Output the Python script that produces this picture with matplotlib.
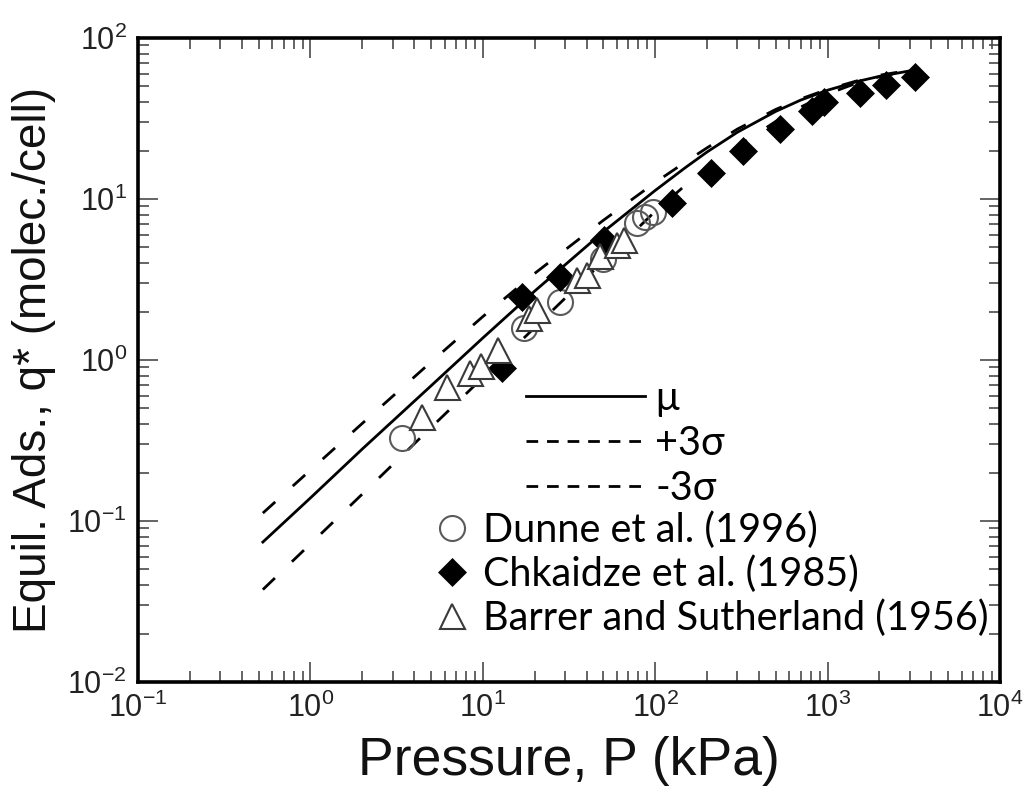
import matplotlib
matplotlib.use('Agg')
import matplotlib.pyplot as plt
from matplotlib.lines import Line2D
from matplotlib.ticker import LogLocator, NullFormatter

# ---------------- data ----------------
P_model = [0.53, 1, 2, 5, 10, 20, 50, 100, 150, 200, 300, 500, 700, 1000, 1500, 2000, 3000]
q_mu    = [0.074, 0.139, 0.28, 0.69, 1.37, 2.68, 6.25, 11.3, 15.7, 19.6, 26.0, 35.0, 41.2, 47.4, 53.8, 57.8, 62.5]
q_plus  = [0.112, 0.207, 0.404, 0.97, 1.86, 3.45, 7.37, 12.66, 17.0, 20.8, 27.2, 36.0, 41.9, 48.0, 54.4, 58.7, 63.1]
q_minus = [0.0375, 0.072, 0.147, 0.38, 0.777, 1.59, 4.1, 8.38, 12.2, 15.5, 21.2, 30.3, 37.3, 44.9, 52.8, 57.5, 62.4]

P_dunne = [3.4, 17.3, 28.0, 50.0, 78.5, 87.7, 97.0]
q_dunne = [0.33, 1.58, 2.3, 4.25, 7.06, 7.77, 8.3]

P_chk = [12.9, 16.9, 28.2, 50.3, 125, 211, 322, 532, 813, 950, 1550, 2185, 3230]
q_chk = [0.89, 2.47, 3.29, 5.56, 9.4, 14.5, 19.9, 27.1, 35.2, 40.2, 45.3, 51.0, 57.0]

P_barrer = [4.45, 6.2, 8.4, 9.7, 12.3, 18.6, 20.6, 35.2, 40.0, 48.0, 60.0, 66.0]
q_barrer = [0.44, 0.68, 0.83, 0.92, 1.16, 1.82, 2.05, 3.15, 3.35, 4.4, 5.2, 5.6]

line_labels = ['μ', '+3σ', '-3σ']
data_labels = ['Dunne et al. (1996)', 'Chkaidze et al. (1985)', 'Barrer and Sutherland (1956)']
x_label = 'Pressure, P (kPa)'
y_label = 'Equil. Ads., q* (molec./cell)'

# ---------------- style ----------------
plt.rcParams['mathtext.fontset'] = 'custom'
plt.rcParams['mathtext.rm'] = 'Liberation Sans'
plt.rcParams['mathtext.it'] = 'Liberation Sans:italic'
plt.rcParams['mathtext.bf'] = 'Liberation Sans:bold'
plt.rcParams['mathtext.default'] = 'regular'
plt.rcParams['font.family'] = ['Liberation Sans', 'DejaVu Sans']

fig = plt.figure(figsize=(10.28, 7.96), dpi=100)
ax = fig.add_axes([138/1028, 114/796, 862/1028, 644/796])
ax.set_xscale('log')
ax.set_yscale('log')
ax.set_xlim(1e-1, 1e4)
ax.set_ylim(1e-2, 1e2)

data_dash = (0, (6.0, 8.5))
ax.plot(P_model, q_mu, color='black', lw=2.0, zorder=2)
ax.plot(P_model, q_plus, color='black', lw=2.0, linestyle=data_dash, zorder=2)
ax.plot(P_model, q_minus, color='black', lw=2.0, linestyle=data_dash, zorder=2)

circ_kw = dict(linestyle='none', marker='o', ms=18, mfc='none', mec='#5a5a5a', mew=1.5)
diam_kw = dict(linestyle='none', marker='D', ms=14, mfc='black', mec='black', mew=0.5)
tri_kw = dict(linestyle='none', marker='^', ms=18, mfc='white', mec='#3a3a3a', mew=1.5)

ax.plot(P_dunne, q_dunne, zorder=3, **circ_kw)
ax.plot(P_chk, q_chk, zorder=4, **diam_kw)
ax.plot(P_barrer, q_barrer, zorder=5, **tri_kw)

# spines / ticks
for s in ax.spines.values():
    s.set_linewidth(2.6)
ax.xaxis.set_major_locator(LogLocator(base=10, numticks=10))
ax.xaxis.set_minor_locator(LogLocator(base=10, subs=range(2, 10), numticks=20))
ax.yaxis.set_major_locator(LogLocator(base=10, numticks=10))
ax.yaxis.set_minor_locator(LogLocator(base=10, subs=range(2, 10), numticks=20))
ax.xaxis.set_minor_formatter(NullFormatter())
ax.yaxis.set_minor_formatter(NullFormatter())
ax.tick_params(which='both', direction='in', top=True, right=True, color='#4a4a4a')
ax.tick_params(which='major', length=14.5, width=1.2, labelsize=22, pad=8, labelcolor='#222222')
ax.tick_params(which='minor', length=8, width=1.2)

ax.set_xlabel(x_label, fontsize=38.5, labelpad=8, color='#111111')
ax.set_ylabel(y_label, fontsize=33, labelpad=8, color='#111111')

# legends
FS = 28.5
FPX = FS * 100 / 72.0
leg_font = dict(family=['Lato', 'Noto Sans', 'DejaVu Sans'], size=FS)
legend_dash = (0, (4.2, 3.2))
line_handles = [Line2D([], [], color='black', lw=2.0),
                Line2D([], [], color='black', lw=2.0, linestyle=legend_dash),
                Line2D([], [], color='black', lw=2.0, linestyle=legend_dash)]
leg1 = ax.legend(line_handles, line_labels, loc='upper left',
                 bbox_to_anchor=((526 - 138) / 862, (682 - 380) / 644),
                 frameon=False, borderpad=0, borderaxespad=0,
                 handlelength=119 / FPX, handletextpad=10 / FPX,
                 labelspacing=0.2, prop=leg_font)
ax.add_artist(leg1)

mk_handles = [Line2D([], [], **circ_kw), Line2D([], [], **diam_kw), Line2D([], [], **tri_kw)]
leg2 = ax.legend(mk_handles, data_labels, loc='upper left',
                 bbox_to_anchor=((437 - 138) / 862, (682 - 511) / 644),
                 frameon=False, borderpad=0, borderaxespad=0,
                 handlelength=30 / FPX, handletextpad=16 / FPX,
                 labelspacing=0.165, prop=leg_font)

fig.savefig('out.png', dpi=100)
